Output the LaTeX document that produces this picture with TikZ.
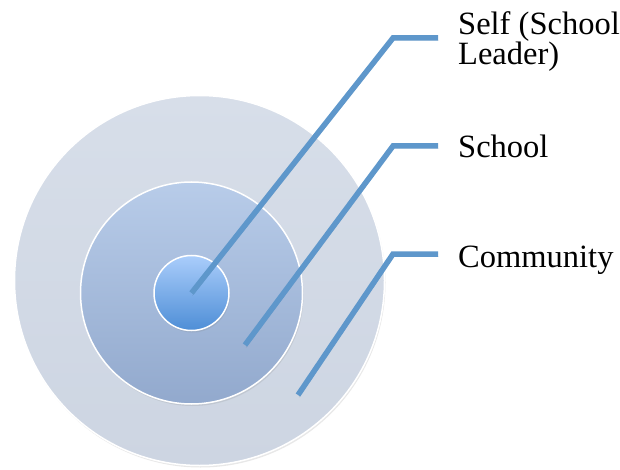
\documentclass[tikz,border=0pt]{standalone}
\usepackage{fontspec}
\setmainfont{Liberation Serif}
\usetikzlibrary{shadows}
\definecolor{outertop}{HTML}{D7DEE9}
\definecolor{outerbot}{HTML}{CDD5E2}
\definecolor{midtop}{HTML}{B8CCE9}
\definecolor{midbot}{HTML}{92A9CD}
\definecolor{innertop}{HTML}{AACDFB}
\definecolor{innerbot}{HTML}{4E8ED6}
\definecolor{leadblue}{HTML}{5E97CB}
\begin{document}
\begin{tikzpicture}[x=1pt,y=-1pt,
  ring/.style={circle, draw=white, line width=1.5pt, inner sep=0pt,
    drop shadow={opacity=0.18, shadow xshift=1pt, shadow yshift=-2pt}},
  leader/.style={draw=leadblue, line width=5.5pt,
    preaction={draw=black, opacity=0.12, transform canvas={shift={(1pt,-2.5pt)}}}},
  lbl/.style={inner sep=0pt, align=left, anchor=base west,
    font=\fontsize{32.5}{27}\selectfont}]
\useasboundingbox (0,0) rectangle (620,470);
% circles
\node[ring, minimum size=370pt, top color=outertop, bottom color=outerbot] (outer) at (199.5,280.5){};
\node[ring, minimum size=222pt, top color=midtop, bottom color=midbot] (middle) at (191.5,293){};
\node[ring, minimum size=75pt, top color=innertop, bottom color=innerbot] (inner) at (191.5,293){};
% labels
\node[lbl] (selflbl) at (458,65){Self (School\\Leader)};
\node[lbl] (schoollbl) at (458,158){School};
\node[lbl] (commlbl) at (458,267){Community};
% leader lines
\coordinate (schoolend) at (245,345);
\coordinate (commend) at (298,395);
\coordinate (selfknee) at (393,38);
\coordinate (schoolknee) at (393,146);
\coordinate (commknee) at (393,254);
\coordinate (selftip) at (438,38);
\coordinate (schooltip) at (438,146);
\coordinate (commtip) at (438,254);
\draw[leader](inner.center) -- (selfknee) -- (selftip);
\draw[leader](schoolend) -- (schoolknee) -- (schooltip);
\draw[leader](commend) -- (commknee) -- (commtip);
\end{tikzpicture}
\end{document}
